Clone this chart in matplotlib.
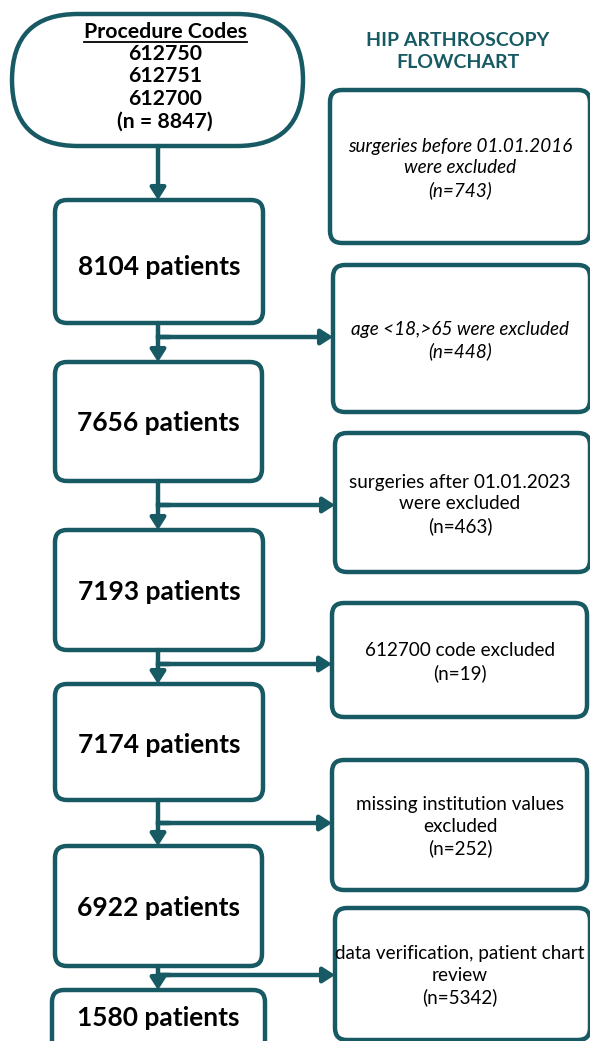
import matplotlib
matplotlib.use("Agg")
import matplotlib.pyplot as plt
from matplotlib.patches import FancyBboxPatch

plt.rcParams['font.family'] = ['Lato', 'DejaVu Sans']

# data
codes = ["612750", "612751", "612700"]
n_total = 8847
counts = [8104, 7656, 7193, 7174, 6922, 1580]
excl_text = ["surgeries before 01.01.2016\nwere excluded",
             "age <18,>65 were excluded",
             "surgeries after 01.01.2023\nwere excluded",
             "612700 code excluded",
             "missing institution values\nexcluded",
             "data verification, patient chart\nreview"]
excl_n = [743, 448, 463, 19, 252, 5342]
excl_italic = [True, True, False, False, False, False]

# layout (pixel space)
TEAL = "#175a63"
left_boxes = [(55, 200, 263, 323), (55, 362, 262, 481), (55, 530, 263, 650),
              (55, 684, 263, 800), (55, 846, 262, 966), (52, 990, 265, 1060)]
right_boxes = [(330, 90, 590, 243), (333, 265, 590, 412), (335, 433, 590, 572),
               (332, 603, 587, 717), (332, 760, 587, 890), (335, 908, 590, 1040)]
branch_y = [337, 505, 664, 823, 975]
stem_x = 158

fig = plt.figure(figsize=(5.9, 10.41), dpi=100)
ax = fig.add_axes([0, 0, 1, 1])
ax.set_xlim(0, 590)
ax.set_ylim(1041, 0)
ax.axis('off')


def box(x0, y0, x1, y1, r=12):
	p = FancyBboxPatch((x0, y0), x1 - x0, y1 - y0,
	                   boxstyle="round,pad=0,rounding_size=%d" % r,
	                   fc="white", ec=TEAL, lw=3.2, zorder=2)
	ax.add_patch(p)


def arrow(x0, y0, x1, y1):
	ax.annotate("", xy=(x1, y1), xytext=(x0, y0),
	            arrowprops=dict(arrowstyle="-|>,head_length=0.7,head_width=0.45",
	                            color=TEAL, lw=3.2, shrinkA=0, shrinkB=0),
	            zorder=3)


# start terminal
box(12, 14, 303, 146, r=66)
t = ax.text(165, 32, "Procedure Codes", ha='center', va='center',
            fontsize=15.3, fontweight='bold', zorder=4)
for i, c in enumerate(codes):
	ax.text(165, 54 + 22.5 * i, c, ha='center', va='center',
	        fontsize=15.3, fontweight='bold', zorder=4)
ax.text(165, 122, "(n = %d)" % n_total, ha='center', va='center',
        fontsize=15.3, fontweight='bold', zorder=4)

fig.canvas.draw()
bb = t.get_window_extent().transformed(ax.transData.inverted())
ax.plot([bb.x0, bb.x1], [42, 42], color='black', lw=1.3, zorder=4)

# title
ax.text(458, 40, "HIP ARTHROSCOPY", ha='center', va='center',
        fontsize=14, fontweight='bold', color=TEAL)
ax.text(458, 63, "FLOWCHART", ha='center', va='center',
        fontsize=14, fontweight='bold', color=TEAL)

arrow(stem_x, 146, stem_x, left_boxes[0][1])

text_y = [267, 423, 592, 745, 908, 1018]
for i, (x0, y0, x1, y1) in enumerate(left_boxes):
	box(x0, y0, x1, y1)
	ax.text((x0 + x1) / 2, text_y[i], "%d patients" % counts[i], ha='center', va='center',
	        fontsize=19, fontweight='bold', zorder=4)

for i, (x0, y0, x1, y1) in enumerate(right_boxes):
	box(x0, y0, x1, y1)
	ax.text(460, (y0 + y1) / 2 + 2, excl_text[i] + "\n(n=%d)" % excl_n[i],
	        ha='center', va='center', fontsize=13.6, linespacing=1.32,
	        style='italic' if excl_italic[i] else 'normal', zorder=4)

for i, by in enumerate(branch_y):
	top = left_boxes[i][3]
	nxt = left_boxes[i + 1][1]
	arrow(stem_x, top, stem_x, nxt)
	ax.plot([stem_x, stem_x + 10], [by, by], color=TEAL, lw=3.2, zorder=3)
	arrow(stem_x, by, right_boxes[i + 1][0], by)

fig.savefig("out.png", dpi=100)
